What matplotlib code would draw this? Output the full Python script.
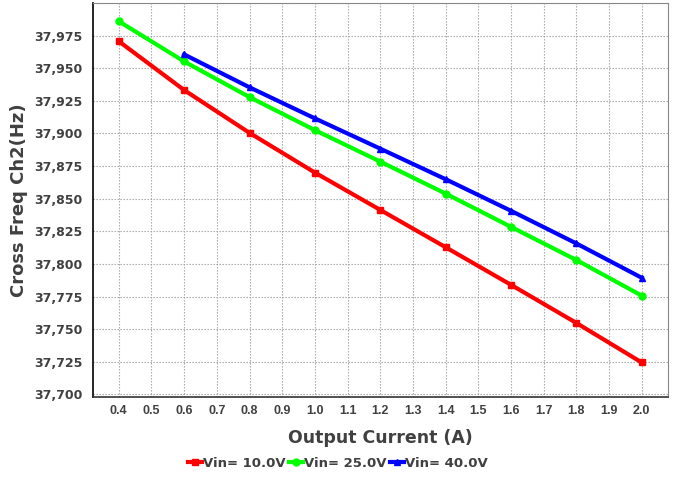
import numpy as np
import matplotlib.pyplot as plt
from matplotlib.ticker import FuncFormatter

current = [0.4, 0.6, 0.8, 1.0, 1.2, 1.4, 1.6, 1.8, 2.0]
freq_10v = [37970.6, 37933.2, 37900.4, 37870.0, 37841.4, 37812.8, 37784.0, 37754.8, 37724.5]
freq_25v = [37985.9, 37955.1, 37927.8, 37902.5, 37878.4, 37853.9, 37828.4, 37803.0, 37775.7]
current_40v = [0.6, 0.8, 1.0, 1.2, 1.4, 1.6, 1.8, 2.0]
freq_40v = [37960.5, 37935.3, 37911.5, 37888.3, 37864.9, 37840.7, 37815.7, 37789.4]

plt.rcParams['font.family'] = ['DejaVu Sans']
txt = '#404040'

fig = plt.figure(figsize=(6.76, 4.79), dpi=100)
ax = fig.add_axes([0.137, 0.171, 0.851, 0.823])

ax.plot(current, freq_10v, color='#ff0000', lw=3, marker='s', ms=5, label='Vin= 10.0V')
ax.plot(current, freq_25v, color='#00ff00', lw=3, marker='o', ms=5, label='Vin= 25.0V')
ax.plot(current_40v, freq_40v, color='#0000ff', lw=3, marker='^', ms=5, label='Vin= 40.0V')

ax.set_xlim(0.32, 2.08)
ax.set_ylim(37698, 38000)
ax.set_xticks(np.arange(0.4, 2.01, 0.1))
ax.set_yticks(np.arange(37700, 37976, 25))
ax.xaxis.set_major_formatter(FuncFormatter(lambda v, p: f'{v:.1f}'))
ax.yaxis.set_major_formatter(FuncFormatter(lambda v, p: f'{v:,.0f}'))
ax.set_yticks(np.arange(37700, 38001, 25), minor=True)
ax.grid(True, which='major', color='#a0a0a0', ls=(0, (1.2, 1.5)), lw=0.8)
ax.grid(True, which='minor', axis='y', color='#a0a0a0', ls=(0, (1.2, 1.5)), lw=0.8)
ax.tick_params(which='both', length=0)
ax.tick_params(axis='y', pad=7, labelsize=9, labelcolor=txt)
ax.tick_params(axis='x', pad=6, labelsize=9, labelcolor=txt)
for lab in ax.get_yticklabels():
    lab.set_fontweight('bold')
for lab in ax.get_xticklabels():
    lab.set_fontweight('bold')
    lab.set_fontfamily('Liberation Sans')

ax.spines['left'].set_color('black')
ax.spines['bottom'].set_color('#333333')
ax.spines['top'].set_color('#888888')
ax.spines['right'].set_color('#888888')
ax.spines['left'].set_linewidth(1.2)
ax.spines['bottom'].set_linewidth(1.2)

ax.set_xlabel('Output Current (A)', fontsize=12.5, fontweight='bold', color=txt, labelpad=8)
ax.set_ylabel('Cross Freq Ch2(Hz)', fontsize=13, fontweight='bold', color=txt, labelpad=5)

leg = fig.legend(loc='center', bbox_to_anchor=(0.5, 0.033), ncol=3, frameon=False,
                 handlelength=1.0, handletextpad=0.1, columnspacing=0.3,
                 prop={'weight': 'bold', 'size': 9.5})
for t in leg.get_texts():
    t.set_color(txt)

fig.savefig('out.png', dpi=100)
